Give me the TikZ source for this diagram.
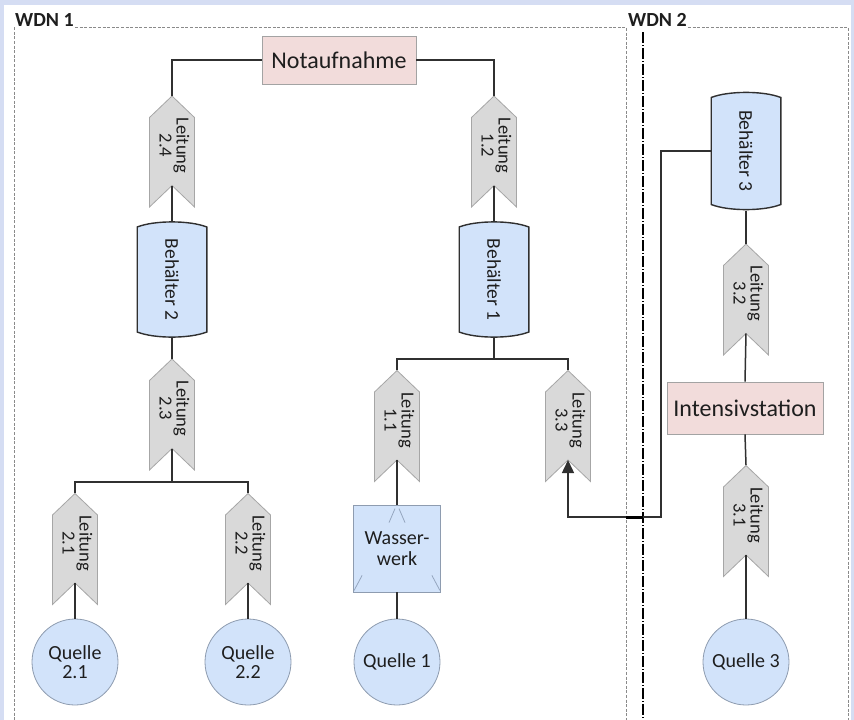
\documentclass[tikz,border=0pt]{standalone}
\usepackage{fontspec}
\setmainfont{Carlito}
\usepackage{graphicx}
\usetikzlibrary{arrows.meta,calc}

\definecolor{pageblue}{HTML}{D5DDF3}
\definecolor{tankblue}{HTML}{D2E3FA}
\definecolor{pipegray}{HTML}{D9D9D9}
\definecolor{pipeedge}{HTML}{A6A6A6}
\definecolor{roomfill}{HTML}{F2DCDB}
\definecolor{roomedge}{HTML}{A3A3A3}
\definecolor{framegray}{HTML}{8A8A8A}
\definecolor{wirecol}{HTML}{303030}
\definecolor{inkcol}{HTML}{1E1E1E}
\definecolor{srcedge}{HTML}{8E9CB0}
\definecolor{wwmarkcol}{HTML}{95A6BF}

% rotated two-line label of a pipe segment
\newcommand{\pipelabel}[1]{\rotatebox{-90}{\fontsize{18.5}{17}\selectfont
  \begin{tabular}{@{}c@{\hspace{12pt}}}Leitung\\#1\end{tabular}}}
% rotated label of a storage tank
\newcommand{\tanklabel}[1]{\rotatebox{-90}{\fontsize{19.5}{22}\selectfont #1}}

\tikzset{
  pipe/.style={minimum width=46pt, minimum height=112pt, inner sep=0pt,
    outer sep=0pt, text=inkcol,
    path picture={
      \path[fill=pipegray, draw=pipeedge, line width=0.8pt]
        ([yshift=-0.5pt]path picture bounding box.north)
        -- ([xshift=-0.5pt,yshift=-22pt]path picture bounding box.north east)
        -- ([xshift=-0.5pt,yshift=0.5pt]path picture bounding box.south east)
        -- ([yshift=22pt]path picture bounding box.south)
        -- ([xshift=0.5pt,yshift=0.5pt]path picture bounding box.south west)
        -- ([xshift=0.5pt,yshift=-22pt]path picture bounding box.north west)
        -- cycle;
    }},
  tank/.style={minimum width=71pt, minimum height=117pt, inner sep=0pt,
    outer sep=0pt, text=inkcol,
    path picture={
      \path[fill=tankblue, draw=wirecol, line width=1.4pt]
        ([xshift=0.7pt,yshift=-6pt]path picture bounding box.north west)
        .. controls ([xshift=18pt,yshift=0.8pt]path picture bounding box.north west)
           and ([xshift=-18pt,yshift=0.8pt]path picture bounding box.north east)
        .. ([xshift=-0.7pt,yshift=-6pt]path picture bounding box.north east)
        -- ([xshift=-0.7pt,yshift=6pt]path picture bounding box.south east)
        .. controls ([xshift=-18pt,yshift=-0.8pt]path picture bounding box.south east)
           and ([xshift=18pt,yshift=-0.8pt]path picture bounding box.south west)
        .. ([xshift=0.7pt,yshift=6pt]path picture bounding box.south west)
        -- cycle;
    }},
  source/.style={circle, minimum size=86pt, inner sep=0pt, fill=tankblue,
    draw=srcedge, line width=0.8pt, align=center, text=inkcol,
    font=\fontsize{20}{19}\selectfont},
  room/.style={rectangle, fill=roomfill, draw=roomedge, line width=0.8pt,
    minimum height=48pt, inner sep=0pt, text=inkcol,
    font=\fontsize{24}{28}\selectfont},
  plant/.style={rectangle, minimum size=87pt, inner sep=0pt, fill=tankblue,
    draw=srcedge, line width=0.8pt, align=center, text=inkcol,
    font=\fontsize{20}{21}\selectfont},
  wwmark/.style={draw=wwmarkcol, line width=0.8pt},
  wdnlabel/.style={inner sep=0pt, text=inkcol, font=\fontsize{20}{24}\selectfont\bfseries},
  frame/.style={draw=framegray, line width=0.8pt, dash pattern=on 3pt off 1.6pt},
  bus/.style={draw=black, line width=1.4pt, dash pattern=on 11pt off 2pt on 1pt off 2pt},
  wire/.style={draw=wirecol, line width=1.5pt},
}

\begin{document}
\begin{tikzpicture}[x=1pt, y=-1pt]
  \useasboundingbox (0,0) rectangle (854,720);
  % page surround
  \fill[pageblue] (0,0) rectangle (854,720);
  \fill[white] (4,5) rectangle (851,720);

  % network frames
  \node[wdnlabel, anchor=base west] (wdn1) at (15,27) {WDN 1};
  \node[wdnlabel, anchor=base west] (wdn2) at (628,27) {WDN 2};
  \coordinate (f1corner) at (626,27);
  \coordinate (f2corner) at (848,27);
  \coordinate (bustop) at (643,32);
  \coordinate (floor) at (0,720);
  \draw[frame] ([xshift=1pt]wdn1.base east) -- (f1corner) -- (f1corner |- floor);
  \draw[frame] ([xshift=-1pt]wdn1.south west) -- (wdn1.south west -| 14,0) -- (14,720);
  \draw[frame] ([xshift=1pt]wdn2.base east) -- (f2corner) -- (f2corner |- floor);
  \draw[bus] (bustop) -- (bustop |- floor);

  % WDN 1, left branch
  \node[room, minimum width=154pt] (nota) at (339,60) {Notaufnahme};
  \node[pipe] (c24) at (172,151.5) {\pipelabel{2.4}};
  \node[tank] (beh2) at (172,279.5) {\tanklabel{Behälter 2}};
  \node[pipe] (c23) at (172,414.5) {\pipelabel{2.3}};
  \node[pipe] (c21) at (75,549) {\pipelabel{2.1}};
  \node[pipe] (c22) at (248,549) {\pipelabel{2.2}};
  \node[source] (q21) at (75,662) {Quelle\\2.1};
  \node[source] (q22) at (248,662) {Quelle\\2.2};

  % WDN 1, right branch
  \node[pipe] (c12) at (494,151.5) {\pipelabel{1.2}};
  \node[tank] (beh1) at (494,279.5) {\tanklabel{Behälter 1}};
  \node[pipe] (c11) at (397,426) {\pipelabel{1.1}};
  \node[pipe] (c33) at (568,426) {\pipelabel{3.3}};
  \node[plant] (ww) at (397,548.5) {Wasser-\\werk};
  \node[source] (q1) at (397,662) {Quelle 1};

  % WDN 2
  \node[tank, minimum height=119pt] (beh3) at (746,151) {\tanklabel{Behälter 3}};
  \node[pipe] (c32) at (746,299.5) {\pipelabel{3.2}};
  \node[room, minimum width=156pt, minimum height=52pt] (intens) at (745,408) {Intensivstation};
  \node[pipe] (c31) at (746,521) {\pipelabel{3.1}};
  \node[source] (q3) at (746,662) {Quelle 3};

  % marks inside the waterworks box
  \draw[wwmark] ([xshift=-8pt,yshift=-18pt]ww.north) -- ([xshift=-2pt,yshift=-4pt]ww.north);
  \draw[wwmark] ([xshift=2pt,yshift=-4pt]ww.north) -- ([xshift=8pt,yshift=-18pt]ww.north);
  \draw[wwmark] ([xshift=1pt,yshift=2pt]ww.south west) -- ([xshift=9pt,yshift=17pt]ww.south west);
  \draw[wwmark] ([xshift=-1pt,yshift=2pt]ww.south east) -- ([xshift=-9pt,yshift=17pt]ww.south east);

  % notch points at the lower end of each pipe
  \foreach \p in {c24,c23,c21,c22,c12,c11,c33,c32,c31}
    \coordinate (\p n) at ([yshift=22pt]\p.south);
  \coordinate (b1split) at (494,359);
  \coordinate (b2split) at (172,482);
  \coordinate (via) at (661,517);

  % connections
  \draw[wire] (nota.west) -| (c24.north);
  \draw[wire] (nota.east) -| (c12.north);
  \draw[wire] (c24n) -- (beh2.north);
  \draw[wire] (beh2.south) -- (c23.north);
  \draw[wire] (c23n) -- (b2split);
  \draw[wire] (c21.north) |- (b2split) -| (c22.north);
  \draw[wire] (c21n) -- (q21.north);
  \draw[wire] (c22n) -- (q22.north);
  \draw[wire] (c12n) -- (beh1.north);
  \draw[wire] (beh1.south) -- (b1split);
  \draw[wire] (c11.north) |- (b1split) -| (c33.north);
  \draw[wire] (c11n) -- (ww.north);
  \draw[wire] (ww.south) -- (q1.north);
  \draw[wire] (beh3.south) -- (c32.north);
  \draw[wire] (c32n) -- (intens.north);
  \draw[wire] (intens.south) -- (c31.north);
  \draw[wire] (c31n) -- (q3.north);
  \draw[wire, -{Triangle[width=12pt,length=13pt]}] (beh3.west) -| (via) -| (c33n);
  \draw[draw=black, line width=3pt] (via -| f1corner) -- (via -| bustop);
\end{tikzpicture}
\end{document}
